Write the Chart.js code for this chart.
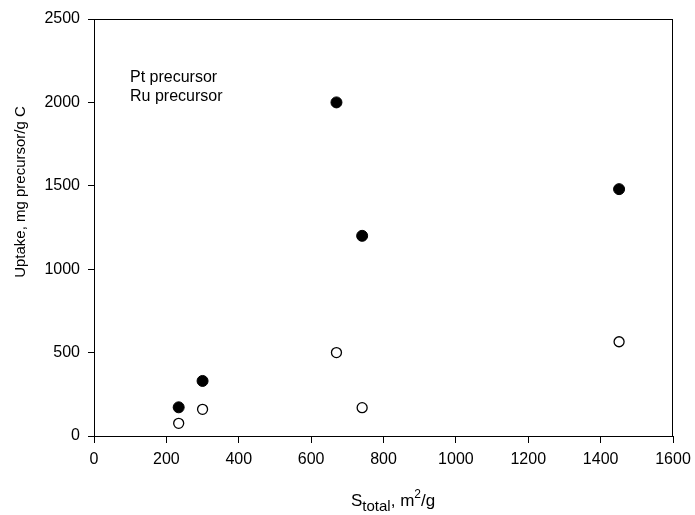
<!DOCTYPE html>
<html>
<head>
<meta charset="utf-8">
<title>Precursor uptake vs. surface area</title>
<script src="https://cdn.jsdelivr.net/npm/chart.js@4.4.1/dist/chart.umd.min.js"></script>
<style>
  body { margin: 0; background: #fff; }
  canvas { display: block; }
</style>
</head>
<body>
<canvas id="uptakeChart" width="695" height="515"></canvas>
<script>
// total surface area of the carbons, m2/g
var surfaceArea = [234, 300, 670, 741, 1451];
// uptake, mg precursor per g carbon
var ptUptake = [172, 330, 2000, 1200, 1480];
var ruUptake = [76, 160, 500, 170, 565];

var seriesNames = ["Pt precursor", "Ru precursor"];

var FONT = "'Liberation Sans', Arial, Helvetica, sans-serif";

function toPoints(ys) {
  return surfaceArea.map(function (x, i) { return {x: x, y: ys[i]}; });
}

function plain(v) { return String(v); }

// box round the plot, axis titles and the text-only legend
var extras = {
  id: "extras",
  afterDraw: function (chart) {
    var ctx = chart.ctx;
    var a = chart.chartArea;
    ctx.save();
    ctx.strokeStyle = "#000";
    ctx.lineWidth = 1;
    ctx.strokeRect(a.left + 0.5, a.top + 0.5, a.right - a.left - 1, a.bottom - a.top);

    ctx.fillStyle = "#000";
    ctx.textAlign = "left";
    ctx.textBaseline = "alphabetic";
    ctx.font = "16px " + FONT;
    ctx.fillText(seriesNames[0], 130, 82);
    ctx.fillText(seriesNames[1], 130, 101);

    // x title with sub- and superscript
    var x = 351, base = 506;
    var parts = [
      ["S", 17, 0], ["total", 15, 5], [", m", 17, 0], ["2", 12, -8], ["/g", 17, 0]
    ];
    parts.forEach(function (p) {
      ctx.font = p[1] + "px " + FONT;
      ctx.fillText(p[0], x, base + p[2]);
      x += ctx.measureText(p[0]).width;
    });

    // y title
    ctx.font = "15px " + FONT;
    ctx.translate(25, 192);
    ctx.rotate(-Math.PI / 2);
    ctx.textAlign = "center";
    ctx.fillText("Uptake, mg precursor/g C", 0, 0);
    ctx.restore();
  }
};

new Chart("uptakeChart", {
  type: "scatter",
  data: {
    datasets: [{
      label: seriesNames[0],
      data: toPoints(ptUptake),
      pointStyle: "circle",
      pointRadius: 5.5,
      backgroundColor: "#000",
      borderColor: "#000",
      borderWidth: 1
    }, {
      label: seriesNames[1],
      data: toPoints(ruUptake),
      pointStyle: "circle",
      pointRadius: 5,
      backgroundColor: "#fff",
      borderColor: "#000",
      borderWidth: 1.3
    }]
  },
  options: {
    responsive: false,
    animation: false,
    layout: {padding: {left: 0, top: 19, right: 22, bottom: 0}},
    plugins: {
      legend: {display: false},
      tooltip: {enabled: false}
    },
    scales: {
      x: {
        type: "linear",
        min: 0,
        max: 1600,
        ticks: {stepSize: 200, color: "#000", padding: 7, callback: plain,
                font: {family: FONT, size: 16}},
        grid: {drawOnChartArea: false, drawTicks: true, tickLength: 7, color: "#000"},
        border: {display: true, color: "#000", width: 1},
        afterFit: function (s) { s.height = 79; s.paddingLeft = 0; s.paddingRight = 0; }
      },
      y: {
        min: 0,
        max: 2500,
        ticks: {stepSize: 500, color: "#000", padding: 8, callback: plain,
                font: {family: FONT, size: 16}},
        grid: {drawOnChartArea: false, drawTicks: true, tickLength: 6, color: "#000"},
        border: {display: true, color: "#000", width: 1},
        afterFit: function (s) { s.width = 94; s.paddingTop = 0; s.paddingBottom = 0; }
      }
    }
  },
  plugins: [extras]
});
</script>
</body>
</html>
